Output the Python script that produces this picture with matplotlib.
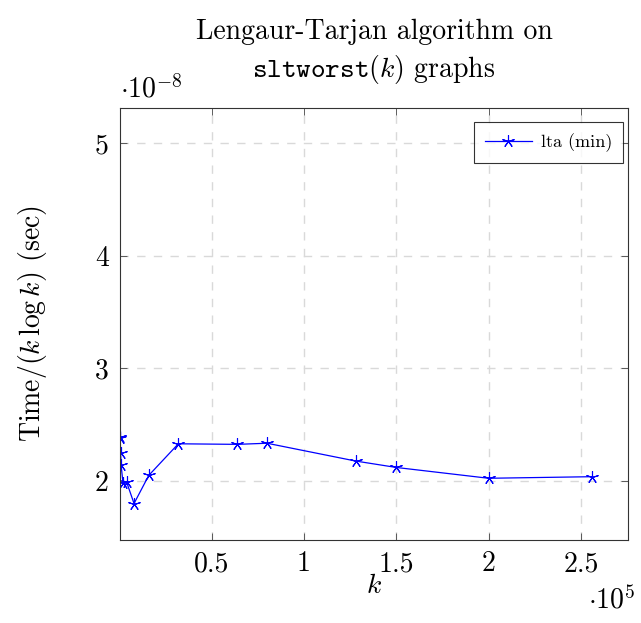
import matplotlib
matplotlib.use("Agg")
import matplotlib.pyplot as plt
from matplotlib.ticker import FixedLocator, FuncFormatter

plt.rcParams['font.family'] = 'serif'
plt.rcParams['font.serif'] = ['cmr10']
plt.rcParams['mathtext.fontset'] = 'cm'
plt.rcParams['axes.formatter.use_mathtext'] = True

# k values and measured time/(k log k) in seconds
k = [100, 500, 500, 750, 1000, 2000, 4000, 8000, 16000, 32000,
     64000, 80000, 128000, 150000, 200000, 256000]
t = [2.90e-8, 2.39e-8, 2.38e-8, 2.25e-8, 2.14e-8, 1.985e-8, 1.99e-8, 1.80e-8,
     2.05e-8, 2.33e-8, 2.325e-8, 2.335e-8, 2.177e-8, 2.12e-8, 2.024e-8, 2.038e-8]

x_ticks = [0.5e5, 1e5, 1.5e5, 2e5, 2.5e5]
y_ticks = [2e-8, 3e-8, 4e-8, 5e-8]

fig = plt.figure(figsize=(6.41, 6.23), dpi=100)
ax = fig.add_axes([0.1872, 0.1332, 0.7925, 0.6934])

# first point lies left of xmin, only its line segment shows
ax.plot(k, t, color='blue', lw=0.9, marker=(5, 2, 0), ms=9, mew=0.8,
        markevery=slice(1, None), label='lta (min)')

ax.set_xlim(400, 2.755e5)
ax.set_ylim(1.476e-8, 5.31e-8)

ax.xaxis.set_major_locator(FixedLocator(x_ticks))
ax.yaxis.set_major_locator(FixedLocator(y_ticks))
ax.xaxis.set_major_formatter(FuncFormatter(lambda v, p: f"{v / 1e5:g}"))
ax.yaxis.set_major_formatter(FuncFormatter(lambda v, p: f"{v / 1e-8:g}"))
ax.tick_params(direction='in', top=True, right=True, length=5,
               width=0.6, labelsize=20, pad=8, color='#444444')

ax.grid(True, color='#d9d9d9', ls=(0, (6, 6)), lw=1.0)
for s in ax.spines.values():
    s.set_linewidth(0.8)
    s.set_color('#333333')

ax.set_xlabel('$k$', fontsize=20)
ax.xaxis.set_label_coords(0.5, -0.076)
ax.set_ylabel(r'Time/$(k\,\log k)$ (sec)', fontsize=20, labelpad=33)
ax.set_title('Lengaur-Tarjan algorithm on\n'
             r'$\mathtt{sltworst(}k\mathtt{)}$ graphs',
             fontsize=20, pad=22, linespacing=1.35)

ax.text(0.0, 1.01, r'$\cdot 10^{-8}$', transform=ax.transAxes,
        fontsize=20, ha='left', va='bottom')
ax.text(1.015, -0.105, r'$\cdot 10^{5}$', transform=ax.transAxes,
        fontsize=20, ha='right', va='top')

leg = ax.legend(loc='upper right', bbox_to_anchor=(0.99, 0.967),
                fontsize=13, frameon=True, fancybox=False,
                edgecolor='black', handlelength=2.6, borderaxespad=0,
                borderpad=0.6, handletextpad=0.5)
leg.get_frame().set_linewidth(0.8)

fig.savefig('out.png', dpi=100)
